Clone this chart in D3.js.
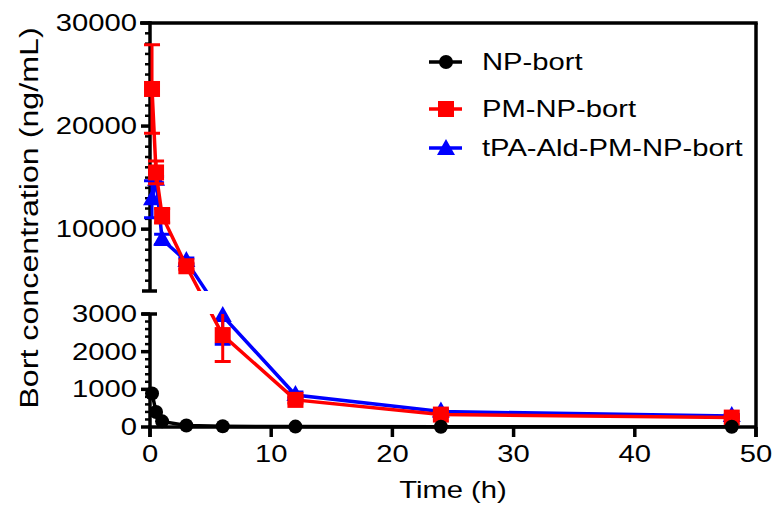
<!DOCTYPE html>
<html>
<head>
<meta charset="utf-8">
<script src="https://cdn.jsdelivr.net/npm/d3@7"></script>
<style>
  body { margin: 0; background: #fff; }
  #chart { width: 774px; height: 508px; }
  text { font-family: "Liberation Sans", Arial, sans-serif; }
</style>
</head>
<body>
<div id="chart"></div>
<script>

// sampling times (h)
var times = [0.167, 0.5, 1, 3, 6, 12, 24, 48];

// mean concentrations (ng/mL) and error bars
var npBort       = [890, 400, 150, 40, 20, 10, 5, 5];
var pmNpBort     = [23600, 15500, 11300, 6400, 2440, 720, 330, 250];
var pmNpBortErr  = [4300, 1100, 700, 300, 700, 80, 50, 40];
var tpaBort      = [12900, 14800, 9000, 6900, 2950, 850, 410, 290];
var tpaBortErr   = [1800, 300, 500, 300, 750, 80, 50, 40];

var seriesNames = ["NP-bort", "PM-NP-bort", "tPA-Ald-PM-NP-bort"];
var seriesColors = ["#000000", "#ff0000", "#0000ff"];

var xTicks = [0, 10, 20, 30, 40, 50];
var yTicksUpper = [10000, 20000, 30000];
var yTicksLower = [0, 1000, 2000, 3000];

var width = 774, height = 508;
var textScale = 1.27;   // the reference glyphs are wide

var svg = d3.select("#chart")
    .append("svg")
    .attr("width", width)
    .attr("height", height);

var x = d3.scaleLinear().domain([0, 50]).range([150, 756]);

// broken y axis: two segments
var yUpper = d3.scaleLinear().domain([4000, 30000]).range([291, 23]);
var yLower = d3.scaleLinear().domain([0, 3000]).range([427, 314]);

function y(v) {
    if (v >= 4000) return yUpper(v);
    if (v <= 3000) return yLower(v);
    // inside the break: keep lines straight across the gap
    return 314 + (v - 3000) / 1000 * (291 - 314);
}

function wideText(g, tx, ty, anchor, size, str) {
    return g.append("text")
        .attr("transform", "translate(" + tx + "," + ty + ") scale(" + textScale + ",1)")
        .attr("text-anchor", anchor)
        .attr("font-size", size + "px")
        .text(str);
}

// clip that hides the gap of the break
var clip = svg.append("defs").append("clipPath").attr("id", "gapclip");
clip.append("rect").attr("x", 0).attr("y", 0).attr("width", width).attr("height", 291);
clip.append("rect").attr("x", 0).attr("y", 314).attr("width", width).attr("height", height - 314);

var axisW = 3.5;

// ---- axes ----
var axes = svg.append("g").attr("stroke", "#000").attr("stroke-width", axisW).attr("fill", "none");

// frame top and right
axes.append("line").attr("x1", 140).attr("x2", x(50) + axisW / 2).attr("y1", yUpper(30000)).attr("y2", yUpper(30000));
axes.append("line").attr("x1", x(50)).attr("x2", x(50)).attr("y1", yUpper(30000)).attr("y2", yLower(0) + 10);

// x axis
axes.append("line").attr("x1", x(0) - axisW / 2).attr("x2", x(50)).attr("y1", yLower(0)).attr("y2", yLower(0));
axes.selectAll(".xtick")
    .data(xTicks)
    .enter()
    .append("line")
    .attr("x1", function(d) { return x(d); })
    .attr("x2", function(d) { return x(d); })
    .attr("y1", yLower(0))
    .attr("y2", yLower(0) + 10);

// y axis upper segment
axes.append("line").attr("x1", x(0)).attr("x2", x(0)).attr("y1", yUpper(30000) - axisW / 2).attr("y2", yUpper(4000));
axes.append("line").attr("x1", x(0) - 8).attr("x2", x(0) + 7).attr("y1", yUpper(4000)).attr("y2", yUpper(4000));
axes.selectAll(".yminU")
    .data(d3.range(5000, 30000, 1000).filter(function(d) { return d % 10000 != 0; }))
    .enter()
    .append("line")
    .attr("stroke-width", 2.5)
    .attr("x1", x(0) - 5).attr("x2", x(0))
    .attr("y1", function(d) { return yUpper(d); })
    .attr("y2", function(d) { return yUpper(d); });
axes.selectAll(".ymajU")
    .data(yTicksUpper)
    .enter()
    .append("line")
    .attr("x1", x(0) - 9).attr("x2", x(0))
    .attr("y1", function(d) { return yUpper(d); })
    .attr("y2", function(d) { return yUpper(d); });

// y axis lower segment
axes.append("line").attr("x1", x(0)).attr("x2", x(0)).attr("y1", yLower(3000)).attr("y2", yLower(0) + 10);
axes.append("line").attr("x1", x(0) - 8).attr("x2", x(0) + 7).attr("y1", yLower(3000)).attr("y2", yLower(3000));
axes.selectAll(".yminL")
    .data(d3.range(200, 3000, 200).filter(function(d) { return d % 1000 != 0; }))
    .enter()
    .append("line")
    .attr("stroke-width", 2.5)
    .attr("x1", x(0) - 5).attr("x2", x(0))
    .attr("y1", function(d) { return yLower(d); })
    .attr("y2", function(d) { return yLower(d); });
axes.selectAll(".ymajL")
    .data(yTicksLower)
    .enter()
    .append("line")
    .attr("x1", x(0) - 9).attr("x2", x(0))
    .attr("y1", function(d) { return yLower(d); })
    .attr("y2", function(d) { return yLower(d); });

// tick labels
var labels = svg.append("g");
yTicksUpper.forEach(function(d) {
    wideText(labels, 137, yUpper(d) + 8, "end", 23, d);
});
yTicksLower.forEach(function(d) {
    wideText(labels, 137, yLower(d) + 8, "end", 23, d);
});
xTicks.forEach(function(d) {
    wideText(labels, x(d), 462, "middle", 23, d);
});

wideText(labels, x(25), 498, "middle", 23, "Time (h)");

svg.append("text")
    .attr("transform", "translate(38,218) rotate(-90) scale(1.24,1)")
    .attr("text-anchor", "middle")
    .attr("font-size", "26px")
    .text("Bort concentration (ng/mL)");

// ---- markers ----
function drawMarker(g, kind, color, cx, cy) {
    if (kind == 0) {
        g.append("circle").attr("cx", cx).attr("cy", cy).attr("r", 7).attr("fill", color);
    } else if (kind == 1) {
        g.append("rect").attr("x", cx - 8).attr("y", cy - 8).attr("width", 16).attr("height", 16).attr("fill", color);
    } else {
        g.append("path")
            .attr("d", "M" + cx + "," + (cy - 10) + "L" + (cx + 9) + "," + (cy + 6) + "L" + (cx - 9) + "," + (cy + 6) + "Z")
            .attr("fill", color);
    }
}

var line = d3.line()
    .x(function(d) { return x(d.t); })
    .y(function(d) { return y(d.v); });

function drawSeries(values, errs, idx) {
    var color = seriesColors[idx];
    var pts = times.map(function(t, i) {
        return { t: t, v: values[i], e: errs ? errs[i] : 0 };
    });
    var g = svg.append("g");
    var clipped = g.append("g").attr("clip-path", "url(#gapclip)");

    clipped.selectAll(".err")
        .data(pts.filter(function(d) { return d.e > 0; }))
        .enter()
        .append("path")
        .attr("fill", "none")
        .attr("stroke", color)
        .attr("stroke-width", 3)
        .attr("d", function(d) {
            var px = x(d.t), y1 = y(d.v - d.e), y2 = y(d.v + d.e);
            return "M" + px + "," + y1 + "V" + y2 +
                "M" + (px - 8) + "," + y2 + "H" + (px + 8) +
                "M" + (px - 8) + "," + y1 + "H" + (px + 8);
        });

    clipped.append("path")
        .datum(pts)
        .attr("fill", "none")
        .attr("stroke", color)
        .attr("stroke-width", 3.5)
        .attr("d", line);

    pts.forEach(function(d) {
        drawMarker(g, idx, color, x(d.t), y(d.v));
    });
}

drawSeries(tpaBort, tpaBortErr, 2);
drawSeries(pmNpBort, pmNpBortErr, 1);
drawSeries(npBort, null, 0);

// ---- legend ----
var legendY = [62, 109, 148];
seriesNames.forEach(function(name, i) {
    var lg = svg.append("g");
    lg.append("line")
        .attr("x1", 429).attr("x2", 462)
        .attr("y1", legendY[i]).attr("y2", legendY[i])
        .attr("stroke", seriesColors[i])
        .attr("stroke-width", 3.5);
    drawMarker(lg, i, seriesColors[i], 446, legendY[i] + (i == 2 ? 1 : 0));
    wideText(lg, 482, legendY[i] + 8, "start", 23, name);
});

</script>
</body>
</html>
